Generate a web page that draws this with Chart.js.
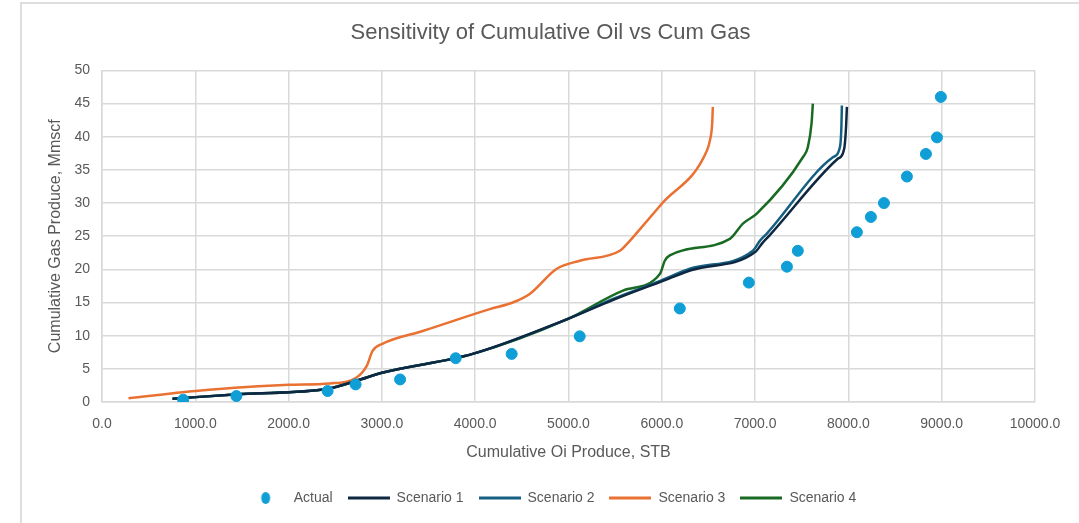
<!DOCTYPE html>
<html>
<head>
<meta charset="utf-8">
<script src="https://cdn.jsdelivr.net/npm/chart.js@4.4.1/dist/chart.umd.min.js"></script>
<style>
  html, body { margin: 0; padding: 0; background: #fff; }
  #wrap { position: relative; width: 1079px; height: 523px; }
  #frame { position: absolute; left: 20px; top: 2px; right: 0; bottom: 0;
           border-left: 2px solid #dedede; border-top: 2px solid #dedede; }
  canvas { position: absolute; left: 0; top: 0; }
</style>
</head>
<body>
<div id="wrap">
  <div id="frame"></div>
  <canvas id="chart" width="1079" height="523"></canvas>
</div>
<script>
// Actual measured points (cum oil STB, cum gas Mmscf)
const actualOil = [870, 1440, 2418, 2718, 3195, 3791, 4391, 5120, 6193, 6933, 7341, 7458, 8091, 8241, 8381, 8627, 8831, 8949, 8991];
const actualGas = [0.35, 0.9, 1.66, 2.65, 3.4, 6.6, 7.25, 9.9, 14.1, 18.0, 20.4, 22.8, 25.6, 27.9, 30.0, 34.0, 37.4, 39.9, 46.0];

// Scenario 1
const s1Oil = [756, 1500, 2418, 2730, 3000, 3973, 4988, 5480, 6000, 6320, 7000, 7080, 7160, 7880, 7955, 7975, 7984];
const s1Gas = [0.5, 1.2, 2.0, 3.2, 4.4, 7.25, 12.5, 15.4, 18.2, 19.9, 22.6, 24.0, 25.2, 36.6, 38.2, 41.5, 44.5];

// Scenario 2
const s2Oil = [756, 1500, 2418, 2730, 3000, 3973, 4988, 5470, 5990, 6300, 6976, 7051, 7126, 7834, 7909, 7925, 7930];
const s2Gas = [0.5, 1.2, 2.0, 3.2, 4.4, 7.25, 12.5, 15.5, 18.3, 20.1, 22.8, 24.3, 25.4, 36.9, 38.4, 41.5, 44.7];

// Scenario 3
const s3Oil = [284, 1003, 2000, 2440, 2729, 2836, 2900, 3010, 3437, 4156, 4402, 4584, 4874, 5121, 5550, 5657, 5732, 6000, 6483, 6515, 6540, 6547];
const s3Gas = [0.55, 1.66, 2.6, 2.8, 3.7, 5.4, 7.7, 8.8, 10.7, 14.0, 15.0, 16.3, 20.1, 21.3, 22.8, 24.3, 25.5, 29.9, 37.9, 39.4, 42.0, 44.5];

// Scenario 4
const s4Oil = [756, 1500, 2418, 2730, 3000, 3973, 4988, 5584, 5979, 6032, 6086, 6729, 6869, 7018, 7512, 7565, 7605, 7619];
const s4Gas = [0.5, 1.2, 2.0, 3.2, 4.4, 7.25, 12.5, 16.8, 19.3, 21.3, 22.1, 24.6, 26.9, 28.4, 36.9, 38.4, 42.0, 45.0];

const xTicks = [0, 1000, 2000, 3000, 4000, 5000, 6000, 7000, 8000, 9000, 10000];
const yTicks = [0, 5, 10, 15, 20, 25, 30, 35, 40, 45, 50];

const toPts = (xs, ys) => xs.map((x, i) => ({ x: x, y: ys[i] }));

// legend swatches drawn as small images
function swatch(color, kind) {
    const c = document.createElement('canvas');
    c.width = 42; c.height = 14;
    const g = c.getContext('2d');
    if (kind === 'dot') {
        g.fillStyle = color;
        g.beginPath();
        g.ellipse(21, 7, 4.5, 6, 0, 0, Math.PI * 2);
        g.fill();
    } else {
        g.strokeStyle = color;
        g.lineWidth = 3;
        g.beginPath();
        g.moveTo(0, 7); g.lineTo(42, 7);
        g.stroke();
    }
    return c;
}

const gridColor = '#d9d9d9';
const textColor = '#595959';
const font = "'Liberation Sans', sans-serif";

function lineSet(label, xs, ys, color) {
    return {
        label: label,
        data: toPts(xs, ys),
        showLine: true,
        borderColor: color,
        backgroundColor: color,
        borderWidth: 2.5,
        pointRadius: 0,
        cubicInterpolationMode: 'monotone',
        legendSwatch: swatch(color, 'line')
    };
}

new Chart(document.getElementById('chart'), {
    type: 'scatter',
    data: {
        datasets: [
            {
                label: 'Actual',
                data: toPts(actualOil, actualGas),
                backgroundColor: '#0F9ED5',
                borderColor: '#0F9ED5',
                pointRadius: 5.5,
                pointStyle: 'circle',
                legendSwatch: swatch('#0F9ED5', 'dot')
            },
            lineSet('Scenario 1', s1Oil, s1Gas, '#0E2841'),
            lineSet('Scenario 2', s2Oil, s2Gas, '#156082'),
            lineSet('Scenario 3', s3Oil, s3Gas, '#E97132'),
            lineSet('Scenario 4', s4Oil, s4Gas, '#196B24')
        ]
    },
    options: {
        responsive: false,
        animation: false,
        layout: { padding: { left: 66, right: 44, top: 12, bottom: 8 } },
        plugins: {
            title: {
                display: true,
                text: 'Sensitivity of Cumulative Oil vs Cum Gas',
                color: textColor,
                font: { family: font, size: 22, weight: 'normal' },
                padding: { top: 8, bottom: 24 }
            },
            legend: {
                position: 'bottom',
                labels: {
                    usePointStyle: true,
                    pointStyleWidth: 42,
                    color: textColor,
                    font: { family: font, size: 14 },
                    padding: 15,
                    generateLabels: chart => {
                        const items = Chart.defaults.plugins.legend.labels.generateLabels(chart);
                        items.forEach(it => { it.pointStyle = chart.data.datasets[it.datasetIndex].legendSwatch; });
                        return items;
                    }
                }
            },
            tooltip: { enabled: false }
        },
        scales: {
            x: {
                type: 'linear',
                min: 0,
                max: 10000,
                afterBuildTicks: s => { s.ticks = xTicks.map(v => ({ value: v })); },
                afterFit: s => { s.height = 74; },
                ticks: {
                    color: textColor,
                    font: { family: font, size: 14 },
                    callback: v => v.toFixed(1),
                    maxRotation: 0,
                    padding: 14
                },
                grid: { color: gridColor, lineWidth: 1.5, drawTicks: false },
                border: { color: gridColor, width: 1.5 },
                title: {
                    display: true,
                    text: 'Cumulative Oi Produce, STB',
                    color: textColor,
                    font: { family: font, size: 16 },
                    padding: { top: 5, bottom: 14 }
                }
            },
            y: {
                type: 'linear',
                min: 0,
                max: 50,
                afterBuildTicks: s => { s.ticks = yTicks.map(v => ({ value: v })); },
                afterFit: s => { s.width = 36; },
                ticks: {
                    color: textColor,
                    font: { family: font, size: 14 },
                    padding: 12
                },
                grid: { color: gridColor, lineWidth: 1.5, drawTicks: false },
                border: { color: gridColor, width: 1.5 },
                title: {
                    display: true,
                    text: 'Cumulative Gas Produce, Mmscf',
                    color: textColor,
                    font: { family: font, size: 16 },
                    padding: { top: -20, bottom: 4 }
                }
            }
        }
    }
});
</script>
</body>
</html>
